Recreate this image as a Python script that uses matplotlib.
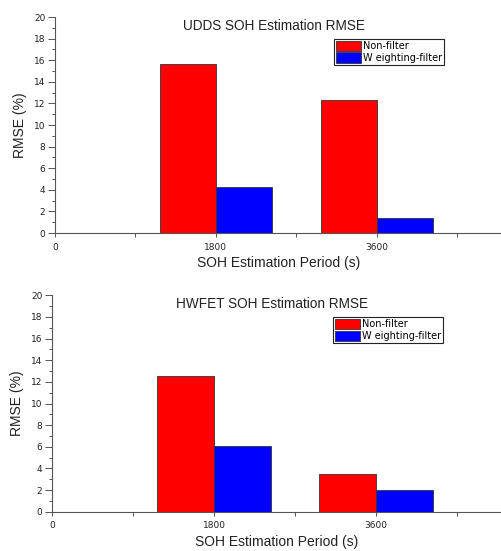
import matplotlib.pyplot as plt
import numpy as np
from matplotlib.ticker import MultipleLocator

periods = [1800, 3600]
titles = ['UDDS SOH Estimation RMSE', 'HWFET SOH Estimation RMSE']
non_filter = [[15.7, 12.3], [12.5, 3.45]]
weighting = [[4.3, 1.4], [6.1, 2.0]]

plt.rcParams['font.family'] = ['Liberation Sans', 'DejaVu Sans']

fig = plt.figure(figsize=(5.02, 5.51), dpi=100)
axes = [fig.add_axes([0.1096, 0.577, 0.8904, 0.392]),
        fig.add_axes([0.1036, 0.0713, 0.8964, 0.3927])]

w = 630
axc = '#555555'
for ax, title, nf, wf in zip(axes, titles, non_filter, weighting):
    x = np.array(periods)
    ax.bar(x - w / 2, nf, w, color='#ff0000', edgecolor='#333333', linewidth=0.6, label='Non-filter')
    ax.bar(x + w / 2, wf, w, color='#0000ff', edgecolor='#333333', linewidth=0.6, label='W eighting-filter')
    ax.set_xlim(0, 5000)
    ax.set_ylim(0, 20)
    ax.set_xticks([0, 1800, 3600])
    ax.xaxis.set_minor_locator(MultipleLocator(900))
    ax.yaxis.set_major_locator(MultipleLocator(2))
    ax.yaxis.set_minor_locator(MultipleLocator(1))
    for s in ['top', 'right']:
        ax.spines[s].set_visible(False)
    for s in ['left', 'bottom']:
        ax.spines[s].set_color(axc)
        ax.spines[s].set_linewidth(0.8)
    ax.tick_params(which='both', colors=axc, labelcolor='#222222', labelsize=6.5, width=0.7)
    ax.tick_params(axis='y', which='major', length=5, pad=2)
    ax.tick_params(axis='y', which='minor', length=2.5)
    ax.tick_params(axis='x', which='both', length=3, pad=4)
    for lab in ax.get_xticklabels() + ax.get_yticklabels():
        lab.set_family('DejaVu Sans')
    ax.set_ylabel('RMSE (%)', fontsize=10, color='#222222', labelpad=5)
    ax.set_xlabel('SOH Estimation Period (s)', fontsize=10, color='#222222', labelpad=3)
    ax.text(0.49, 0.96, title, transform=ax.transAxes, ha='center', va='center',
            fontsize=9.8, color='#222222')
    leg = ax.legend(loc='upper left', bbox_to_anchor=(0.624, 0.90),
                    prop={'family': 'DejaVu Sans', 'size': 7},
                    frameon=True, fancybox=False, edgecolor='#222222', framealpha=1,
                    handlelength=2.6, handleheight=1.25, handletextpad=0.2,
                    borderpad=0.2, labelspacing=0.15, borderaxespad=0)
    leg.get_frame().set_linewidth(0.8)

fig.savefig('out.png', dpi=100)
